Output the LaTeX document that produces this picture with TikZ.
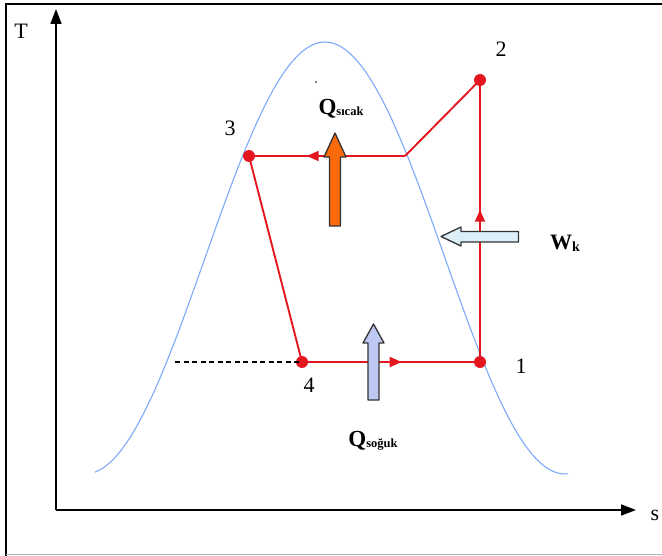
\documentclass[tikz,border=0pt]{standalone}
\usepackage{fontspec}
\setmainfont{Liberation Serif}
\usetikzlibrary{arrows.meta,decorations.markings}
\definecolor{cycred}{RGB}{228,22,32}
\definecolor{domeblue}{RGB}{125,170,250}
\definecolor{hotorange}{RGB}{250,105,10}
\definecolor{coldblue}{RGB}{190,200,245}
\definecolor{workcyan}{RGB}{220,238,248}
\tikzset{
  cycline/.style={draw=cycred,line width=1.9pt},
  midarrow/.style={postaction={decorate},decoration={markings,
    mark=at position #1 with {\arrow{Triangle[length=12pt,width=10pt]}}}},
  statept/.style={circle,fill=cycred,inner sep=0pt,minimum size=12pt},
  numlabel/.style={font=\fontsize{22}{26}\selectfont,inner sep=0pt},
  axislabel/.style={font=\fontsize{22}{26}\selectfont,inner sep=0pt},
  blockarrow/.style={draw=black!80,line width=1.3pt,line join=round},
  axisline/.style={line width=1.7pt,-{Triangle[length=15pt,width=11pt]}}
}
\begin{document}
\begin{tikzpicture}[x=1pt,y=-1pt]
\useasboundingbox (0,0) rectangle (662,556);
% frame
\draw[line width=1.6pt] (6,556) -- (6,4) -- (662,4);
\draw[gray!60,line width=1pt] (6,554.5) -- (662,554.5);
% axes
\coordinate (origin) at (56,510);
\coordinate (ytip) at (56,9);
\coordinate (xtip) at (636,510);
\draw[axisline] (origin) -- (ytip);
\draw[axisline] (origin) -- (xtip);
\node[axislabel] (Tlab) at (21,31) {T};
\node[axislabel] (slab) at (655,515) {s};
% dome
\draw[domeblue,line width=1.1pt] plot[domain=-230:243,samples=120]
  ({325+\x},{42+216*(1-cos(0.75*\x))});
% dashed
\coordinate (dashL) at (175,362);
% states
\node[statept] (p1) at (480,362) {};
\node[statept] (p2) at (480,80) {};
\node[statept] (p3) at (249,156) {};
\node[statept] (p4) at (302,362) {};
\coordinate (j) at (405,156);
\draw[dashed,line width=1.1pt,dash pattern=on 5pt off 3.5pt] (dashL) -- (p4.center);
\draw[cycline,midarrow=0.54] (p1.center) -- (p2.center);
\draw[cycline] (p2.center) -- (j);
\draw[cycline,midarrow=0.63] (j) -- (p3.center);
\draw[cycline] (p3.center) -- (p4.center);
\draw[cycline,midarrow=0.56] (p4.center) -- (p1.center);
% labels
\node[numlabel] (l1) at (521,366) {1};
\node[numlabel] (l2) at (501,49) {2};
\node[numlabel] (l3) at (230,128) {3};
\node[numlabel] (l4) at (309,385) {4};
% heat / work arrows
\draw[blockarrow,fill=hotorange] (335,133) -- (346,157) -- (340.5,157) -- (340.5,226)
  -- (329.5,226) -- (329.5,157) -- (324,157) -- cycle;
\draw[blockarrow,fill=coldblue] (373.5,324) -- (384,343) -- (379,343) -- (379,400)
  -- (368,400) -- (368,343) -- (363,343) -- cycle;
\draw[blockarrow,fill=workcyan] (441,236.5) -- (461,227) -- (461,231.5) -- (518.5,231.5)
  -- (518.5,242) -- (461,242) -- (461,246) -- cycle;
% texts
\fill (316,82) circle (0.9pt);
\node[inner sep=0pt,font=\bfseries] (qhot) at (341,109)
  {\fontsize{23}{26}\selectfont Q\raisebox{-1pt}{\fontsize{12.5}{14}\selectfont sıcak}};
\node[inner sep=0pt,font=\bfseries] (wk) at (565,243)
  {\fontsize{22}{26}\selectfont W\raisebox{-2pt}{\fontsize{14}{16}\selectfont k}};
\node[inner sep=0pt,font=\bfseries] (qcold) at (373,441)
  {\fontsize{23}{26}\selectfont Q\raisebox{-1pt}{\fontsize{12.5}{14}\selectfont soğuk}};
\end{tikzpicture}
\end{document}
